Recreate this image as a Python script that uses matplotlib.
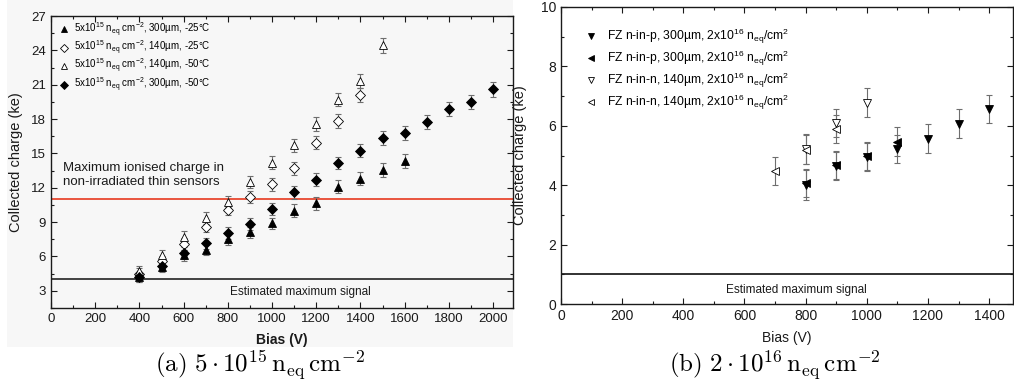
import matplotlib
matplotlib.use("Agg")
import matplotlib.pyplot as plt
from matplotlib.patches import Rectangle
from matplotlib.ticker import MultipleLocator

plt.rcParams["font.family"] = ["Liberation Sans", "DejaVu Sans"]
plt.rcParams["mathtext.fontset"] = "custom"
plt.rcParams["mathtext.rm"] = "Liberation Sans"
plt.rcParams["mathtext.it"] = "Liberation Sans:italic"
plt.rcParams["mathtext.bf"] = "Liberation Sans:bold"

# ---- panel (a): 5e15 neq/cm2 ----
bias_a1 = [400, 500, 600, 700, 800, 900, 1000, 1100, 1200, 1300, 1400, 1500, 1600]
charge_a1 = [4.2, 5.1, 6.1, 6.6, 7.5, 8.1, 8.9, 10.0, 10.65, 12.1, 12.8, 13.55, 14.35]
err_a1 = [0.45, 0.45, 0.5, 0.5, 0.5, 0.5, 0.5, 0.55, 0.55, 0.55, 0.55, 0.6, 0.6]

bias_a2 = [400, 500, 600, 700, 800, 900, 1000, 1100, 1200, 1300, 1400]
charge_a2 = [4.5, 5.6, 7.1, 8.6, 10.1, 11.2, 12.3, 13.7, 15.95, 17.8, 20.1]
err_a2 = [0.45, 0.45, 0.5, 0.5, 0.5, 0.5, 0.55, 0.55, 0.6, 0.6, 0.6]

bias_a3 = [400, 500, 600, 700, 800, 900, 1000, 1100, 1200, 1300, 1400, 1500]
charge_a3 = [4.7, 6.1, 7.7, 9.35, 10.8, 12.5, 14.2, 15.7, 17.6, 19.7, 21.3, 24.45]
err_a3 = [0.45, 0.45, 0.5, 0.5, 0.5, 0.5, 0.55, 0.55, 0.6, 0.6, 0.6, 0.65]

bias_a4 = [400, 500, 600, 700, 800, 900, 1000, 1100, 1200, 1300, 1400, 1500, 1600,
           1700, 1800, 1900, 2000]
charge_a4 = [4.2, 5.2, 6.3, 7.15, 8.05, 8.85, 10.13, 11.6, 12.7, 14.15, 15.25, 16.33,
             16.77, 17.75, 18.85, 19.52, 20.6]
err_a4 = [0.45, 0.45, 0.5, 0.5, 0.5, 0.5, 0.5, 0.55, 0.55, 0.55, 0.55, 0.6, 0.6,
          0.6, 0.6, 0.6, 0.65]

labels_a = [
    r"5x10$^{15}$ n$_{\rm eq}$ cm$^{-2}$, 300µm, -25°C",
    r"5x10$^{15}$ n$_{\rm eq}$ cm$^{-2}$, 140µm, -25°C",
    r"5x10$^{15}$ n$_{\rm eq}$ cm$^{-2}$, 140µm, -50°C",
    r"5x10$^{15}$ n$_{\rm eq}$ cm$^{-2}$, 300µm, -50°C",
]
max_ionised = 11.0
est_signal_a = 4.0

# ---- panel (b): 2e16 neq/cm2 ----
bias_b1 = [800, 900, 1000, 1100, 1200, 1300, 1400]
charge_b1 = [4.0, 4.65, 4.95, 5.22, 5.57, 6.07, 6.57]
err_b1 = [0.5, 0.48, 0.48, 0.48, 0.48, 0.48, 0.48]

bias_b2 = [800, 900, 1000, 1100]
charge_b2 = [4.07, 4.68, 4.98, 5.47]
err_b2 = [0.48, 0.48, 0.48, 0.48]

bias_b3 = [800, 900, 1000]
charge_b3 = [5.22, 6.09, 6.78]
err_b3 = [0.5, 0.48, 0.48]

bias_b4 = [700, 800, 900]
charge_b4 = [4.48, 5.2, 5.9]
err_b4 = [0.48, 0.48, 0.48]

labels_b = [
    r"FZ n-in-p, 300µm, 2x10$^{16}$ n$_{\rm eq}$/cm$^{2}$",
    r"FZ n-in-p, 300µm, 2x10$^{16}$ n$_{\rm eq}$/cm$^{2}$",
    r"FZ n-in-n, 140µm, 2x10$^{16}$ n$_{\rm eq}$/cm$^{2}$",
    r"FZ n-in-n, 140µm, 2x10$^{16}$ n$_{\rm eq}$/cm$^{2}$",
]
est_signal_b = 1.0

ERR_COLOR = "#6e6e6e"
INK = "#1a1a1a"
PANEL_BG = "#f7f7f7"
W, H = 1014, 389


def px_axes(fig, x0, y0, x1, y1):
    return fig.add_axes([x0 / W, 1 - y1 / H, (x1 - x0) / W, (y1 - y0) / H])


def style(ax, fs):
    ax.tick_params(which="both", direction="in", top=True, right=True,
                   labelsize=fs, colors=INK, width=0.8)
    ax.tick_params(which="major", length=4)
    ax.tick_params(which="minor", length=2.5)
    for s in ax.spines.values():
        s.set_color(INK)
        s.set_linewidth(1.0)


def series(ax, x, y, e, marker, filled, label, ms):
    ax.errorbar(x, y, yerr=e, fmt="none", ecolor=ERR_COLOR, elinewidth=0.8,
                capsize=2.5, capthick=0.8, zorder=2)
    ax.plot(x, y, linestyle="none", marker=marker, markersize=ms,
            markerfacecolor="black" if filled else "white",
            markeredgecolor="black", markeredgewidth=0.6, label=label, zorder=3)


fig = plt.figure(figsize=(W / 100, H / 100), dpi=100)
fig.patches.append(Rectangle((7 / W, 1 - 347 / H), 506 / W, 347 / H,
                             transform=fig.transFigure, facecolor=PANEL_BG,
                             edgecolor="none", zorder=-5))

# panel (a)
ax1 = px_axes(fig, 51, 16, 513, 308)
ax1.set_facecolor(PANEL_BG)
series(ax1, bias_a1, charge_a1, err_a1, "^", True, labels_a[0], 6)
series(ax1, bias_a2, charge_a2, err_a2, "D", False, labels_a[1], 5)
series(ax1, bias_a3, charge_a3, err_a3, "^", False, labels_a[2], 6)
series(ax1, bias_a4, charge_a4, err_a4, "D", True, labels_a[3], 5)
ax1.axhline(max_ionised, color="#e8472f", linewidth=1.3, zorder=1)
ax1.axhline(est_signal_a, color="#333333", linewidth=1.3, zorder=1)
ax1.text(55, 13.1, "Maximum ionised charge in\nnon-irradiated thin sensors",
         fontsize=9.5, color=INK, va="center", ha="left", linespacing=1.2)
ax1.text(1130, 2.9, "Estimated maximum signal", fontsize=8.5, color=INK,
         ha="center", va="center")
ax1.set_xlim(0, 2090)
ax1.set_ylim(1.5, 27)
ax1.xaxis.set_major_locator(MultipleLocator(200))
ax1.xaxis.set_minor_locator(MultipleLocator(100))
ax1.yaxis.set_major_locator(MultipleLocator(3))
ax1.yaxis.set_minor_locator(MultipleLocator(1.5))
style(ax1, 9.5)
ax1.set_xlabel("Bias (V)", fontsize=10, fontweight="bold", color=INK, labelpad=6)
ax1.set_ylabel("Collected charge (ke)", fontsize=10.5, color=INK, labelpad=6)
ax1.legend(loc="upper left", bbox_to_anchor=(0.012, 0.99), frameon=False,
           fontsize=7.0, labelspacing=0.02, handletextpad=0.45, handlelength=1.2,
           borderaxespad=0.0, borderpad=0.15, markerscale=0.75)

# panel (b)
ax2 = px_axes(fig, 561, 7, 1013, 304)
series(ax2, bias_b1, charge_b1, err_b1, "v", True, labels_b[0], 6)
series(ax2, bias_b2, charge_b2, err_b2, "<", True, labels_b[1], 6)
series(ax2, bias_b3, charge_b3, err_b3, "v", False, labels_b[2], 6)
series(ax2, bias_b4, charge_b4, err_b4, "<", False, labels_b[3], 6)
ax2.axhline(est_signal_b, color="#222222", linewidth=1.3, zorder=1)
ax2.text(770, 0.47, "Estimated maximum signal", fontsize=8.5, color=INK,
         ha="center", va="center")
ax2.set_xlim(0, 1478)
ax2.set_ylim(0, 10)
ax2.xaxis.set_major_locator(MultipleLocator(200))
ax2.xaxis.set_minor_locator(MultipleLocator(100))
ax2.yaxis.set_major_locator(MultipleLocator(2))
ax2.yaxis.set_minor_locator(MultipleLocator(1))
style(ax2, 10)
ax2.set_xlabel("Bias (V)", fontsize=10, color=INK, labelpad=6)
ax2.set_ylabel("Collected charge (ke)", fontsize=10.5, color=INK, labelpad=10)
ax2.legend(loc="upper left", bbox_to_anchor=(0.045, 0.94), frameon=False,
           fontsize=8.7, labelspacing=0.22, handletextpad=0.7, handlelength=1.2,
           borderaxespad=0.0, borderpad=0.2, markerscale=0.7)

# captions
fig.text(260 / W, 1 - 365 / H, r"$\mathrm{(a)}\ 5\cdot10^{15}\,\mathrm{n_{eq}\,cm^{-2}}$",
         math_fontfamily="cm", fontsize=18, ha="center", va="center")
fig.text(775 / W, 1 - 365 / H, r"$\mathrm{(b)}\ 2\cdot10^{16}\,\mathrm{n_{eq}\,cm^{-2}}$",
         math_fontfamily="cm", fontsize=18, ha="center", va="center")

fig.savefig("out.png", dpi=100)
